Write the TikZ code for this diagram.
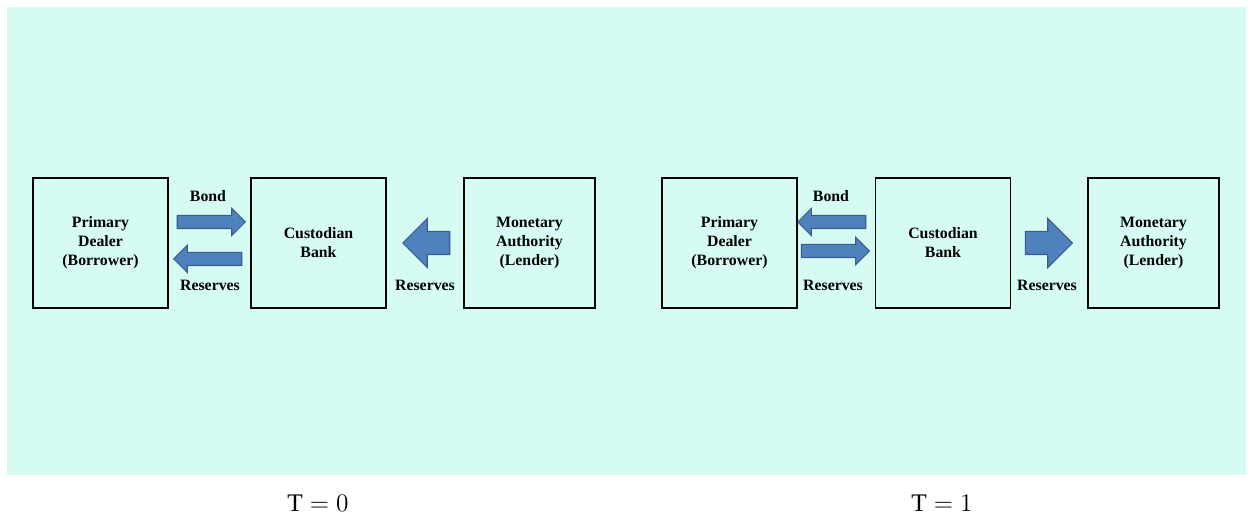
\documentclass[tikz,border=0pt]{standalone}
\usepackage{fontspec}
\setmainfont{Liberation Serif}
\usetikzlibrary{shapes.arrows}
\definecolor{bgcyan}{RGB}{214,251,243}
\definecolor{arrowfill}{RGB}{79,129,189}
\definecolor{arrowline}{RGB}{56,93,138}
\tikzset{
  party/.style={draw=black,line width=0.8pt,minimum width=2.7cm,minimum height=2.6cm,align=center,
    font=\fontsize{9}{10.8}\selectfont\bfseries},
  flowlabel/.style={font=\fontsize{9}{10.8}\selectfont\bfseries},
  smallarrow/.style={single arrow,draw=arrowline,fill=arrowfill,line width=0.6pt,minimum height=1.36cm,
    inner xsep=0pt,inner ysep=0.12cm,minimum width=0.52cm,single arrow head extend=0.14cm,
    single arrow head indent=0pt,anchor=tip},
  bigarrow/.style={single arrow,draw=arrowline,fill=arrowfill,line width=0.6pt,minimum height=0.94cm,
    inner xsep=0pt,inner ysep=0.22cm,minimum width=0.96cm,single arrow head extend=0.26cm,
    single arrow head indent=0pt,anchor=tip}
}
\begin{document}
\begin{tikzpicture}[x=0.02cm,y=-0.02cm]
      \useasboundingbox (0,0) rectangle (1253,519);
      \fill[bgcyan] (7,7) rectangle (1246,475);
      % T = 0
      \node[party] (dealerA) at (100.5,243) {Primary\\Dealer\\(Borrower)};
      \node[party] (custA) at (318.5,243) {Custodian\\Bank};
      \node[party,minimum width=2.62cm] (authA) at (529.5,243) {Monetary\\Authority\\(Lender)};
      \node[smallarrow] (bondA) at (246,222) {};
      \node[smallarrow,shape border rotate=180] (resA) at (173,259) {};
      \node[bigarrow,shape border rotate=180] (bigA) at (402,243) {};
      \node[flowlabel] (bondlabA) at (208,196) {Bond};
      \node[flowlabel] (reslabA) at (210,285) {Reserves};
      \node[flowlabel] (biglabA) at (425,285) {Reserves};
      % T = 1
      \node[party] (dealerB) at (729.5,243) {Primary\\Dealer\\(Borrower)};
      \node[party] (custB) at (943,243) {Custodian\\Bank};
      \node[party,minimum width=2.62cm] (authB) at (1153.5,243) {Monetary\\Authority\\(Lender)};
      \node[smallarrow,shape border rotate=180] (bondB) at (797,222) {};
      \node[smallarrow] (resB) at (870,251) {};
      \node[bigarrow] (bigB) at (1073,243) {};
      \node[flowlabel] (bondlabB) at (831,196) {Bond};
      \node[flowlabel] (reslabB) at (833,285) {Reserves};
      \node[flowlabel] (biglabB) at (1047,285) {Reserves};
      \node[font=\Large] (timeA) at (318,503) {$\mathrm{T} = 0$};
      \node[font=\Large] (timeB) at (942,503) {$\mathrm{T} = 1$};
    \end{tikzpicture}
\end{document}
